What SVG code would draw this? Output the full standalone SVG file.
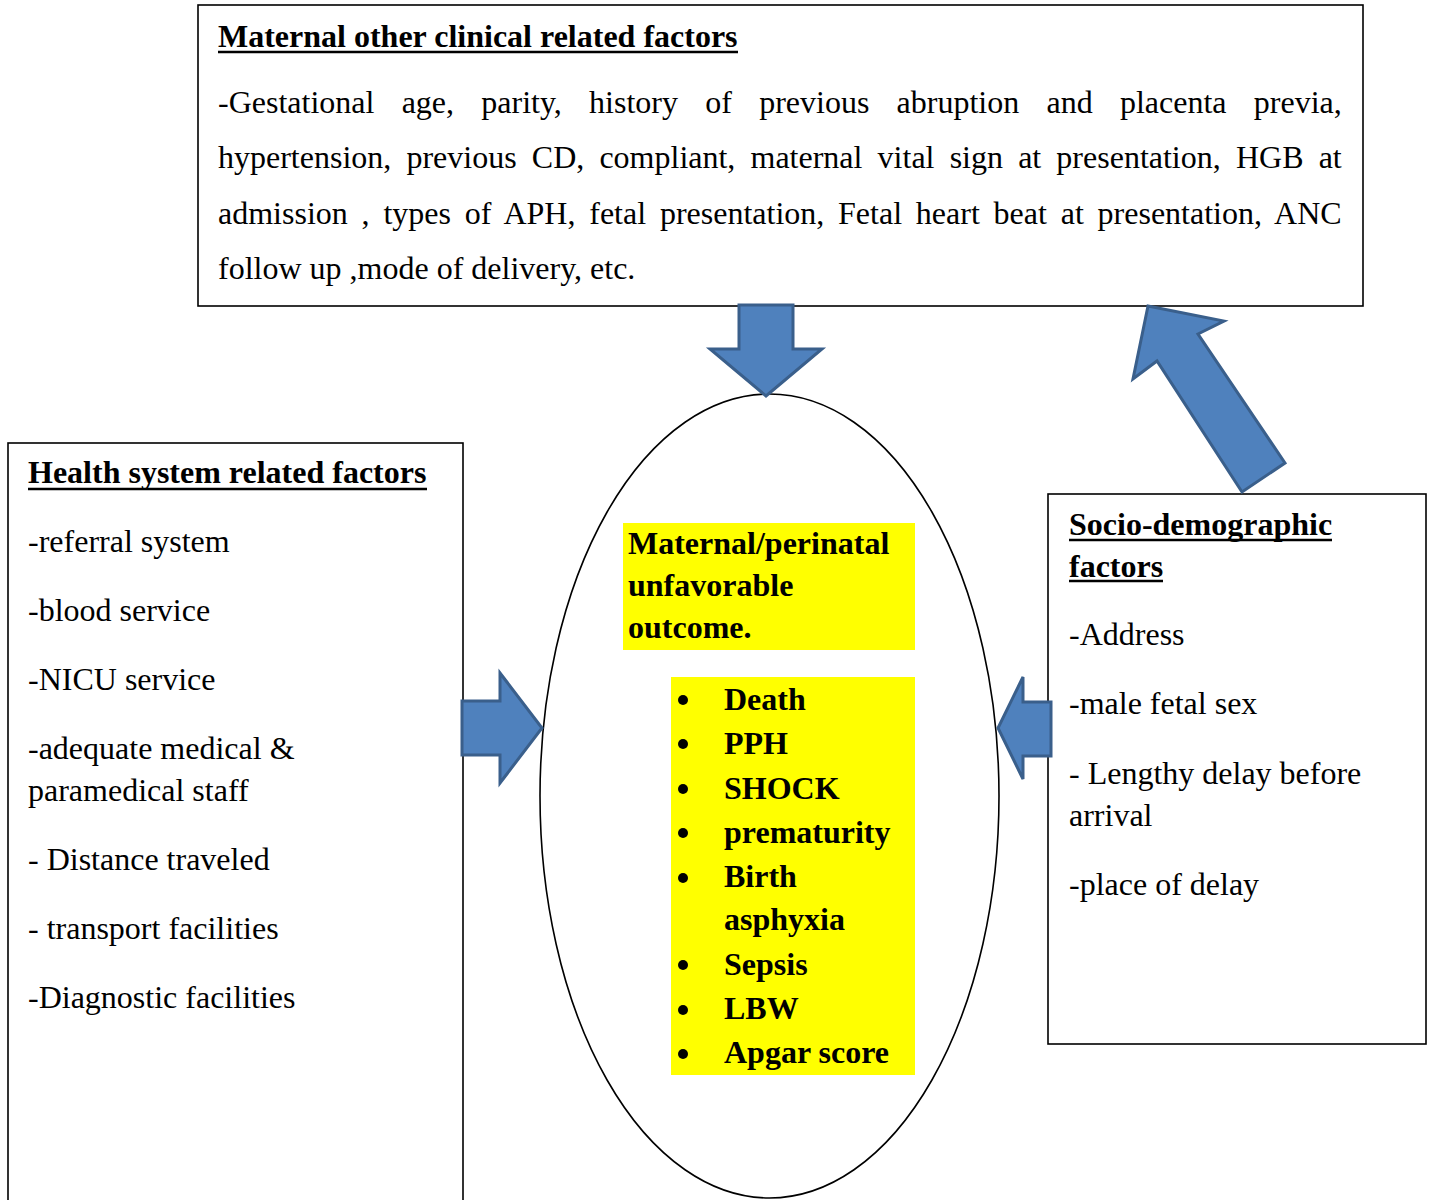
<svg xmlns="http://www.w3.org/2000/svg" width="1432" height="1200" viewBox="0 0 1432 1200">
<style>
.box{fill:#fff;stroke:#000;stroke-width:1.6}
.t{font-family:"Liberation Serif","Times New Roman",serif;font-size:32px;fill:#000}
.b{font-family:"Liberation Serif","Times New Roman",serif;font-size:32px;font-weight:bold;fill:#000}
.ul{stroke:#000;stroke-width:2.6}
.hl{fill:#FFFF00}
.arrow{fill:#4F81BD;stroke:#3A5F8B;stroke-width:3;stroke-linejoin:miter}
</style>
<rect width="1432" height="1200" fill="#fff"/>

<g id="node-clinical">
<rect class="box" x="198" y="5" width="1165" height="301"/>
<text class="b" x="218" y="47">Maternal other clinical related factors</text>
<line class="ul" x1="218" y1="52" x2="738" y2="52"/>
<text class="t" x="218" y="113" word-spacing="19.25">-Gestational age, parity, history of previous abruption and placenta previa,</text>
<text class="t" x="218" y="168" word-spacing="7.15">hypertension, previous CD, compliant, maternal vital sign at presentation, HGB at</text>
<text class="t" x="218" y="224" word-spacing="5.8">admission , types of APH, fetal presentation, Fetal heart beat at presentation, ANC</text>
<text class="t" x="218" y="279">follow up ,mode of delivery, etc.</text>
</g>

<g id="node-health">
<rect class="box" x="8" y="443" width="455" height="780"/>
<text class="b" x="28" y="483">Health system related factors</text>
<line class="ul" x1="28" y1="489" x2="427" y2="489"/>
<text class="t" x="28" y="552">-referral system</text>
<text class="t" x="28" y="621">-blood service</text>
<text class="t" x="28" y="690">-NICU service</text>
<text class="t" x="28" y="759">-adequate medical &amp;</text>
<text class="t" x="28" y="801">paramedical staff</text>
<text class="t" x="28" y="870">- Distance traveled</text>
<text class="t" x="28" y="939">- transport facilities</text>
<text class="t" x="28" y="1008">-Diagnostic facilities</text>
</g>

<g id="node-socio">
<rect class="box" x="1048" y="494" width="378" height="550"/>
<text class="b" x="1069" y="535">Socio-demographic</text>
<line class="ul" x1="1069" y1="540" x2="1332" y2="540"/>
<text class="b" x="1069" y="577">factors</text>
<line class="ul" x1="1069" y1="581" x2="1163" y2="581"/>
<text class="t" x="1069" y="645">-Address</text>
<text class="t" x="1069" y="714">-male fetal sex</text>
<text class="t" x="1069" y="784">- Lengthy delay before</text>
<text class="t" x="1069" y="826">arrival</text>
<text class="t" x="1069" y="895">-place of delay</text>
</g>

<g id="node-outcome">
<ellipse cx="769.5" cy="796" rx="229.5" ry="402" fill="#fff" stroke="#000" stroke-width="1.6"/>
<rect class="hl" x="623" y="523" width="292" height="127"/>
<text class="b" x="628" y="554">Maternal/perinatal</text>
<text class="b" x="628" y="596">unfavorable</text>
<text class="b" x="628" y="638">outcome.</text>
<rect class="hl" x="671" y="677" width="244" height="398"/>
<g fill="#000">
<circle cx="683" cy="700" r="5"/>
<circle cx="683" cy="744" r="5"/>
<circle cx="683" cy="789" r="5"/>
<circle cx="683" cy="833" r="5"/>
<circle cx="683" cy="878" r="5"/>
<circle cx="683" cy="965" r="5"/>
<circle cx="683" cy="1010" r="5"/>
<circle cx="683" cy="1054" r="5"/>
</g>
<text class="b" x="724" y="710">Death</text>
<text class="b" x="724" y="754">PPH</text>
<text class="b" x="724" y="799">SHOCK</text>
<text class="b" x="724" y="843">prematurity</text>
<text class="b" x="724" y="887">Birth</text>
<text class="b" x="724" y="930">asphyxia</text>
<text class="b" x="724" y="975">Sepsis</text>
<text class="b" x="724" y="1019">LBW</text>
<text class="b" x="724" y="1063">Apgar score</text>
</g>

<g id="connectors">
<polygon class="arrow" points="739,305 793,305 793,349 822,349 766,396 710,349 739,349"/>
<polygon class="arrow" points="1148,306 1224,321 1198,334 1285,463 1242,492 1157,361 1133,379"/>
<polygon class="arrow" points="462,701 500,701 500,673 542,728 500,783 500,755 462,755"/>
<polygon class="arrow" points="1051,702 1023,702 1023,677 998,728 1023,779 1023,756 1051,756"/>
</g>
</svg>
